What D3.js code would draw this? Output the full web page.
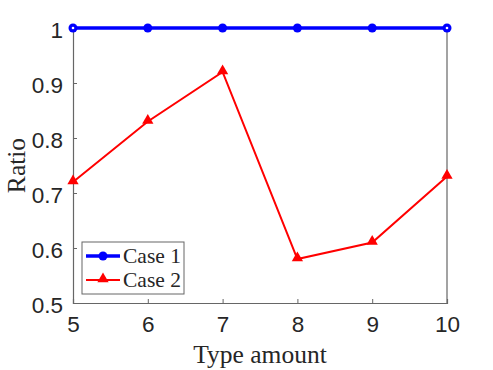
<!DOCTYPE html>
<html>
<head>
<meta charset="utf-8">
<script src="https://cdn.jsdelivr.net/npm/d3@7"></script>
<style>
  body { margin: 0; background: #fff; }
  svg { display: block; }
</style>
</head>
<body>
<svg id="chart" width="493" height="370"></svg>
<script>
// data
const typeAmount = [5, 6, 7, 8, 9, 10];
const case1 = [1, 1, 1, 1, 1, 1];
const case2 = [0.72, 0.83, 0.92, 0.58, 0.61, 0.73];
const yTicks = [0.5, 0.6, 0.7, 0.8, 0.9, 1];
const seriesNames = ["Case 1", "Case 2"];

const margin = {left: 73, right: 46, top: 28, bottom: 67};
const width = 493, height = 370;

const svg = d3.select("#chart");

const x = d3.scaleLinear().domain([5, 10]).range([margin.left, width - margin.right]);
const y = d3.scaleLinear().domain([0.5, 1]).range([height - margin.bottom, margin.top]);

const axisColor = "#666";
const textColor = "#262626";

// axes box
const xAxis = svg.append("g")
    .attr("transform", `translate(0,${y(0.5)})`)
    .call(d3.axisBottom(x).tickValues(typeAmount).tickSize(-4).tickPadding(13).tickFormat(d3.format("d")));
const yAxis = svg.append("g")
    .attr("transform", `translate(${x(5)},0)`)
    .call(d3.axisLeft(y).tickValues(yTicks).tickSize(-4).tickPadding(10).tickFormat(d => d === 1 ? "1" : d3.format(".1f")(d)));

[xAxis, yAxis].forEach(g => {
  g.select(".domain").attr("stroke", axisColor).attr("stroke-width", 1.2);
  g.selectAll(".tick line").attr("stroke", axisColor);
  g.selectAll(".tick text")
    .attr("fill", textColor)
    .attr("font-family", "Liberation Sans, Arial, sans-serif")
    .attr("font-size", 22.5);
});
yAxis.selectAll(".tick text").attr("dy", "0.4em");

// right and top edges of the box
svg.append("line")
    .attr("x1", x(10)).attr("x2", x(10))
    .attr("y1", y(1)).attr("y2", y(0.5))
    .attr("stroke", axisColor).attr("stroke-width", 1.2);
svg.append("line")
    .attr("x1", x(5)).attr("x2", x(10))
    .attr("y1", y(1)).attr("y2", y(1))
    .attr("stroke", axisColor).attr("stroke-width", 1.2);

// axis titles
svg.append("text")
    .attr("x", (x(5) + x(10)) / 2)
    .attr("y", 363)
    .attr("text-anchor", "middle")
    .attr("font-family", "Liberation Serif, Times New Roman, serif")
    .attr("font-size", 25.5)
    .attr("fill", textColor)
    .text("Type amount");
svg.append("text")
    .attr("transform", `translate(25,${(y(0.5) + y(1)) / 2}) rotate(-90)`)
    .attr("text-anchor", "middle")
    .attr("font-family", "Liberation Serif, Times New Roman, serif")
    .attr("font-size", 25.5)
    .attr("fill", textColor)
    .text("Ratio");

const line = d3.line().x(d => x(d[0])).y(d => y(d[1]));
const tri = d3.symbol().type(d3.symbolTriangle).size(55);

// Case 2
const pts2 = typeAmount.map((t, i) => [t, case2[i]]);
svg.append("path")
    .attr("d", line(pts2))
    .attr("fill", "none")
    .attr("stroke", "#ff0000")
    .attr("stroke-width", 2);
svg.selectAll(".m2")
    .data(pts2)
    .join("path")
    .attr("class", "m2")
    .attr("transform", d => `translate(${x(d[0])},${y(d[1]) - 1})`)
    .attr("d", tri)
    .attr("fill", "#ff0000");

// Case 1
const pts1 = typeAmount.map((t, i) => [t, case1[i]]);
svg.append("path")
    .attr("d", line(pts1))
    .attr("fill", "none")
    .attr("stroke", "#0000ff")
    .attr("stroke-width", 3.5);
svg.selectAll(".m1")
    .data(pts1)
    .join("circle")
    .attr("class", "m1")
    .attr("cx", d => x(d[0]))
    .attr("cy", d => y(d[1]))
    .attr("r", 4.5)
    .attr("fill", "#0000ff");
// the end markers show a small light centre in the picture
svg.selectAll(".m1c")
    .data([pts1[0], pts1[pts1.length - 1]])
    .join("circle")
    .attr("cx", d => x(d[0]))
    .attr("cy", d => y(d[1]))
    .attr("r", 1.3)
    .attr("fill", "#fff");

// legend
const lg = svg.append("g").attr("transform", "translate(82,242)");
lg.append("rect")
    .attr("width", 102).attr("height", 52)
    .attr("fill", "#fff")
    .attr("stroke", axisColor)
    .attr("stroke-width", 1);
const legendColors = ["#0000ff", "#ff0000"];
seriesNames.forEach((name, i) => {
  const cy = 14 + i * 24;
  lg.append("line")
      .attr("x1", 4).attr("x2", 38)
      .attr("y1", cy).attr("y2", cy)
      .attr("stroke", legendColors[i])
      .attr("stroke-width", i === 0 ? 3.5 : 2);
  if (i === 0) {
    lg.append("circle").attr("cx", 21).attr("cy", cy).attr("r", 4.5).attr("fill", legendColors[i]);
  } else {
    lg.append("path").attr("transform", `translate(21,${cy - 1})`).attr("d", tri).attr("fill", legendColors[i]);
  }
  lg.append("text")
      .attr("x", 41).attr("y", cy + 7)
      .attr("font-family", "Liberation Serif, Times New Roman, serif")
      .attr("font-size", 21.5)
      .attr("fill", textColor)
      .text(name);
});
</script>
</body>
</html>
